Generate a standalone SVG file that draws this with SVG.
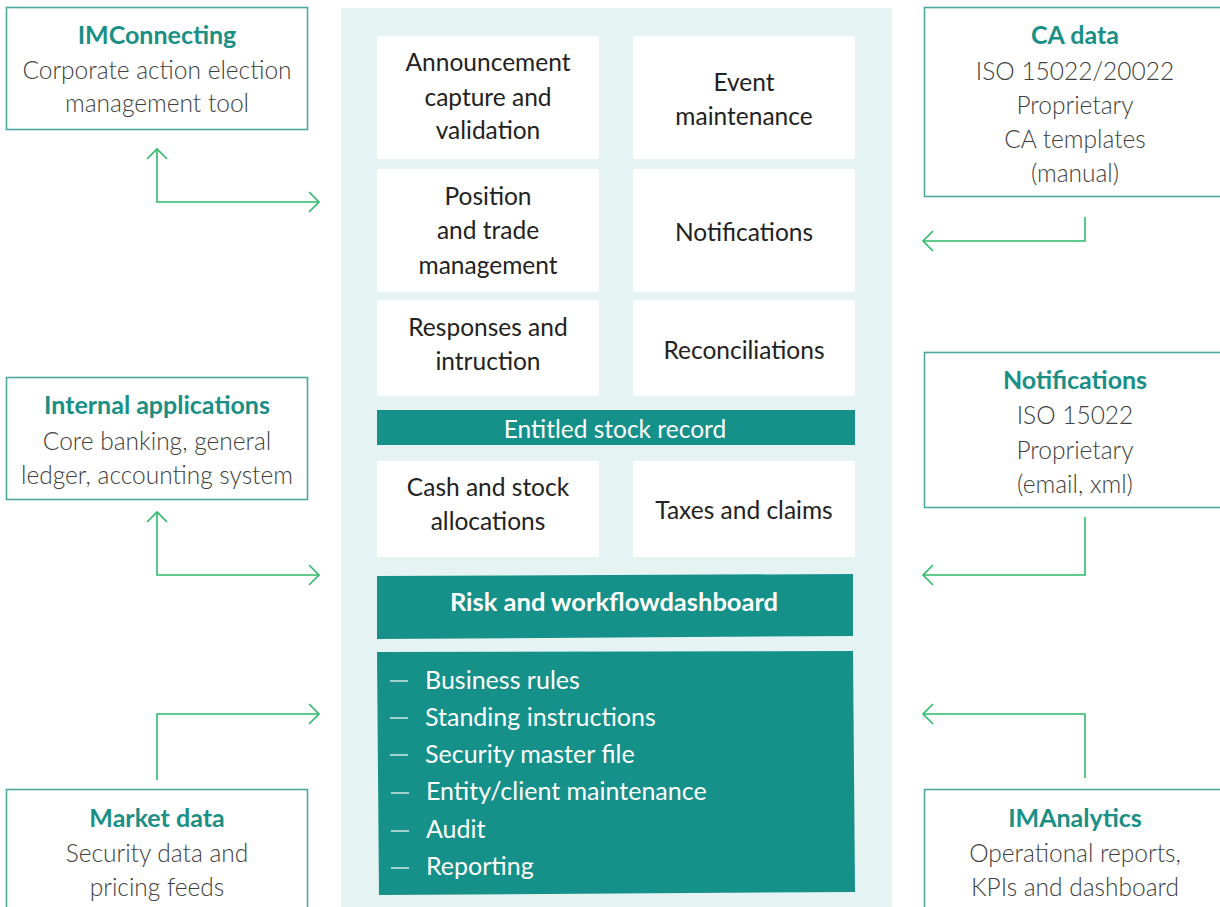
<svg xmlns="http://www.w3.org/2000/svg" width="1220" height="907" viewBox="0 0 1220 907">
<defs>
<marker id="ah" markerWidth="14" markerHeight="22" refX="11" refY="11" orient="auto" markerUnits="userSpaceOnUse">
<path d="M1,1 L11,11 L1,21" fill="none" stroke="#2dbb68" stroke-width="1.6"/>
</marker>
<marker id="ahs" markerWidth="14" markerHeight="22" refX="11" refY="11" orient="auto-start-reverse" markerUnits="userSpaceOnUse">
<path d="M1,1 L11,11 L1,21" fill="none" stroke="#2dbb68" stroke-width="1.6"/>
</marker>
</defs>
<style>
text{font-family:"Lato","Noto Sans",sans-serif;text-anchor:middle}
.ext{fill:#fff;stroke:#4ca79f;stroke-width:1.6}
.ttl{font-size:25px;font-weight:700;fill:#1a8f86}
.dsc{font-size:24.5px;font-weight:300;fill:#404040}
.wb{fill:#fff}
.in{font-size:24.5px;fill:#222}
.tb{fill:#15918a}
.wt{font-size:24.5px;fill:#fff}
.rk{font-size:25.5px;font-weight:700;fill:#fff}
.lt{font-size:25px;fill:#fff;text-anchor:start}
.dash{stroke:#fff;stroke-width:1.2}
.con{fill:none;stroke:#2dbb68;stroke-width:1.6}
</style>
<rect width="1220" height="907" fill="#fff"/>
<g id="core">
<rect x="341" y="8" width="551" height="899" fill="#e5f4f3"/>
</g>
<g id="announcement"><rect class="wb" x="377" y="36" width="222" height="123"/>
<text class="in" x="488" y="71">Announcement</text><text class="in" x="488" y="106">capture and</text><text class="in" x="488" y="139">validation</text></g>
<g id="event"><rect class="wb" x="633" y="36" width="222" height="123"/>
<text class="in" x="744" y="91">Event</text><text class="in" x="744" y="125">maintenance</text></g>
<g id="position"><rect class="wb" x="377" y="169" width="222" height="123"/>
<text class="in" x="488" y="205">Position</text><text class="in" x="488" y="239">and trade</text><text class="in" x="488" y="274">management</text></g>
<g id="notif-int"><rect class="wb" x="633" y="169" width="222" height="123"/>
<text class="in" x="744" y="241">Notifications</text></g>
<g id="responses"><rect class="wb" x="377" y="300" width="222" height="96"/>
<text class="in" x="488" y="336">Responses and</text><text class="in" x="488" y="370">intruction</text></g>
<g id="recon"><rect class="wb" x="633" y="300" width="222" height="96"/>
<text class="in" x="744" y="359">Reconciliations</text></g>
<g id="entitled"><rect class="tb" x="377" y="410" width="478" height="35"/>
<text class="wt" x="615" y="438">Entitled stock record</text></g>
<g id="cash"><rect class="wb" x="377" y="461" width="222" height="96"/>
<text class="in" x="488" y="496">Cash and stock</text><text class="in" x="488" y="530">allocations</text></g>
<g id="taxes"><rect class="wb" x="633" y="461" width="222" height="96"/>
<text class="in" x="744" y="519">Taxes and claims</text></g>
<g id="risk"><polygon class="tb" points="377,576 853,574 853,636 377,639"/>
<text class="rk" x="614" y="611">Risk and workflowdashboard</text></g>
<g id="rules"><polygon class="tb" points="377,652 853,651 855,892 379,895"/>
<g class="dash"><line x1="390" y1="681" x2="408" y2="681"/><line x1="390" y1="718" x2="408" y2="718"/><line x1="390" y1="755" x2="408" y2="755"/><line x1="391" y1="793" x2="409" y2="793"/><line x1="391" y1="831" x2="409" y2="831"/><line x1="391" y1="868" x2="409" y2="868"/></g>
<text class="lt" x="425" y="689">Business rules</text>
<text class="lt" x="425" y="726">Standing instructions</text>
<text class="lt" x="425" y="763">Security master file</text>
<text class="lt" x="426" y="800">Entity/client maintenance</text>
<text class="lt" x="426" y="838">Audit</text>
<text class="lt" x="426" y="875">Reporting</text></g>
<g id="imconnecting"><rect class="ext" x="6.5" y="7.5" width="301" height="122"/>
<text class="ttl" x="157" y="44">IMConnecting</text><text class="dsc" x="157" y="79">Corporate action election</text><text class="dsc" x="157" y="112">management tool</text></g>
<g id="internal"><rect class="ext" x="6.5" y="377.5" width="301" height="122"/>
<text class="ttl" x="157" y="414">Internal applications</text><text class="dsc" x="157" y="450">Core banking, general</text><text class="dsc" x="157" y="484">ledger, accounting system</text></g>
<g id="market"><rect class="ext" x="6.5" y="789.5" width="301" height="130"/>
<text class="ttl" x="157" y="827">Market data</text><text class="dsc" x="157" y="862">Security data and</text><text class="dsc" x="157" y="896">pricing feeds</text></g>
<g id="cadata"><rect class="ext" x="924.5" y="7.5" width="310" height="189"/>
<text class="ttl" x="1075" y="44">CA data</text><text class="dsc" x="1075" y="80">ISO 15022/20022</text><text class="dsc" x="1075" y="114">Proprietary</text><text class="dsc" x="1075" y="148">CA templates</text><text class="dsc" x="1075" y="182">(manual)</text></g>
<g id="notifications"><rect class="ext" x="924.5" y="352.5" width="310" height="155"/>
<text class="ttl" x="1075" y="389">Notifications</text><text class="dsc" x="1075" y="424">ISO 15022</text><text class="dsc" x="1075" y="459">Proprietary</text><text class="dsc" x="1075" y="493">(email, xml)</text></g>
<g id="imanalytics"><rect class="ext" x="924.5" y="789.5" width="310" height="130"/>
<text class="ttl" x="1075" y="827">IMAnalytics</text><text class="dsc" x="1075" y="862">Operational reports,</text><text class="dsc" x="1075" y="896">KPIs and dashboard</text></g>
<g id="connectors">
<path class="con" d="M157,149 L157,202 L319,202" marker-start="url(#ahs)" marker-end="url(#ah)"/>
<path class="con" d="M157,512 L157,575 L319,575" marker-start="url(#ahs)" marker-end="url(#ah)"/>
<path class="con" d="M157,780 L157,714 L319,714" marker-end="url(#ah)"/>
<path class="con" d="M1085,217 L1085,241 L923,241" marker-end="url(#ah)"/>
<path class="con" d="M1085,517 L1085,575 L923,575" marker-end="url(#ah)"/>
<path class="con" d="M1085,778 L1085,714 L923,714" marker-end="url(#ah)"/>
</g>
</svg>
